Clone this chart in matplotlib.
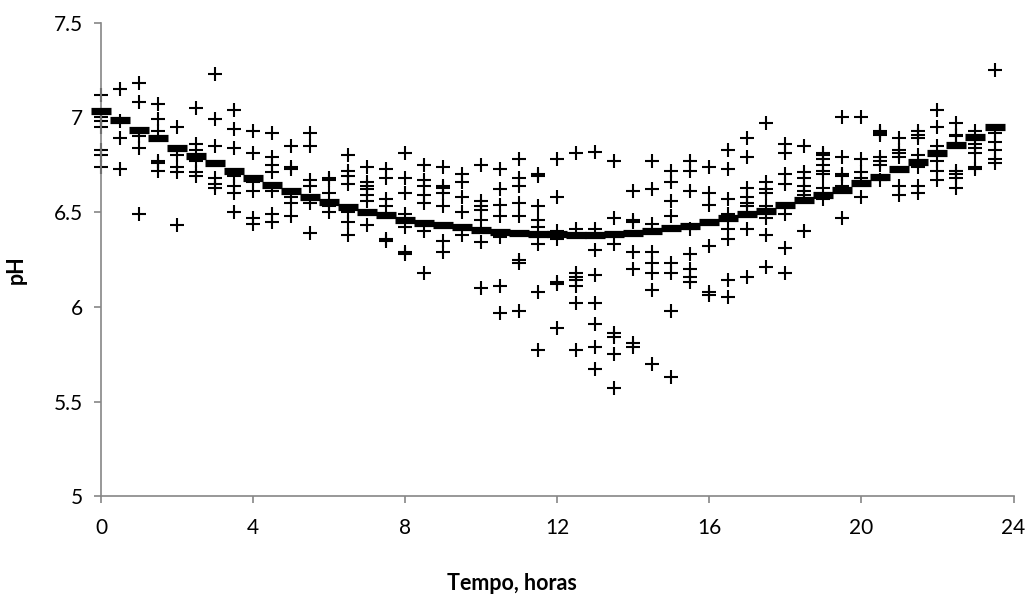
import matplotlib
matplotlib.use("Agg")
import matplotlib.pyplot as plt

plt.rcParams['font.family'] = ['Lato', 'DejaVu Sans']

hours = [i * 0.5 for i in range(48)]

fitted_ph = [7.034, 6.987, 6.934, 6.890, 6.841, 6.796, 6.758, 6.717,
             6.681, 6.643, 6.613, 6.581, 6.554, 6.528, 6.502, 6.484,
             6.461, 6.443, 6.431, 6.419, 6.405, 6.396, 6.390, 6.387,
             6.384, 6.380, 6.380, 6.385, 6.390, 6.400, 6.415, 6.428,
             6.449, 6.467, 6.490, 6.507, 6.537, 6.563, 6.590, 6.616,
             6.655, 6.687, 6.726, 6.766, 6.811, 6.854, 6.898, 6.948]

observed_ph = [
    [7.12, 7.00, 6.98, 6.95, 6.83, 6.80, 6.74],
    [7.15, 6.98, 6.89, 6.73],
    [7.18, 7.08, 6.90, 6.84, 6.49],
    [7.07, 6.99, 6.93, 6.77, 6.76, 6.72],
    [6.95, 6.80, 6.74, 6.71, 6.43],
    [7.05, 6.86, 6.83, 6.77, 6.71, 6.69],
    [7.23, 6.99, 6.85, 6.68, 6.65, 6.63],
    [7.04, 6.94, 6.84, 6.69, 6.64, 6.60, 6.50],
    [6.93, 6.81, 6.66, 6.61, 6.47, 6.44],
    [6.92, 6.79, 6.75, 6.71, 6.61, 6.49, 6.45],
    [6.85, 6.74, 6.73, 6.58, 6.55, 6.48],
    [6.92, 6.85, 6.67, 6.64, 6.55, 6.39],
    [6.68, 6.67, 6.60, 6.53, 6.50],
    [6.80, 6.72, 6.69, 6.65, 6.50, 6.45, 6.38],
    [6.74, 6.66, 6.64, 6.62, 6.59, 6.56, 6.43],
    [6.73, 6.68, 6.57, 6.53, 6.36, 6.35],
    [6.81, 6.68, 6.60, 6.49, 6.42, 6.29, 6.28],
    [6.75, 6.67, 6.64, 6.59, 6.55, 6.40, 6.18],
    [6.74, 6.64, 6.63, 6.60, 6.53, 6.35, 6.29],
    [6.70, 6.66, 6.58, 6.50, 6.38],
    [6.75, 6.56, 6.53, 6.51, 6.46, 6.34, 6.10],
    [6.73, 6.62, 6.54, 6.48, 6.37, 6.11, 5.97],
    [6.78, 6.68, 6.64, 6.55, 6.48, 6.25, 6.23, 5.98],
    [6.70, 6.69, 6.53, 6.46, 6.42, 6.33, 6.08, 5.77],
    [6.78, 6.58, 6.40, 6.36, 6.13, 6.12, 5.89],
    [6.81, 6.41, 6.18, 6.16, 6.14, 6.11, 6.02, 5.77],
    [6.82, 6.41, 6.30, 6.17, 6.02, 5.91, 5.79, 5.67],
    [6.77, 6.47, 6.33, 5.86, 5.84, 5.75, 5.57],
    [6.61, 6.46, 6.45, 6.29, 6.20, 5.81, 5.79],
    [6.77, 6.62, 6.44, 6.29, 6.23, 6.18, 6.09, 5.70],
    [6.72, 6.66, 6.56, 6.48, 6.23, 6.18, 5.98, 5.63],
    [6.77, 6.72, 6.61, 6.41, 6.28, 6.20, 6.16, 6.13],
    [6.74, 6.60, 6.54, 6.32, 6.08, 6.06],
    [6.83, 6.73, 6.57, 6.49, 6.41, 6.36, 6.14, 6.05],
    [6.89, 6.79, 6.63, 6.58, 6.55, 6.53, 6.41, 6.16],
    [6.97, 6.66, 6.62, 6.60, 6.53, 6.47, 6.38, 6.21],
    [6.86, 6.81, 6.70, 6.65, 6.49, 6.31, 6.18],
    [6.85, 6.71, 6.68, 6.64, 6.61, 6.59, 6.40],
    [6.81, 6.80, 6.78, 6.75, 6.72, 6.70, 6.63, 6.57],
    [7.00, 6.79, 6.70, 6.69, 6.64, 6.47],
    [7.00, 6.78, 6.71, 6.68, 6.58],
    [6.93, 6.92, 6.91, 6.79, 6.77, 6.75, 6.67],
    [6.89, 6.83, 6.81, 6.79, 6.64, 6.59],
    [6.93, 6.91, 6.89, 6.80, 6.74, 6.64, 6.60],
    [7.04, 6.95, 6.85, 6.77, 6.72, 6.67],
    [6.97, 6.91, 6.90, 6.72, 6.70, 6.68, 6.63],
    [6.93, 6.86, 6.84, 6.81, 6.74, 6.73],
    [7.25, 6.92, 6.87, 6.83, 6.78, 6.76],
]

x_ticks = [0, 4, 8, 12, 16, 20, 24]
y_ticks = [5, 5.5, 6, 6.5, 7, 7.5]
y_tick_labels = ['5', '5.5', '6', '6.5', '7', '7.5']

fig = plt.figure(figsize=(10.3, 6), dpi=100)
ax = fig.add_axes([0.098, 0.173, 0.886, 0.789])

obs_x = [h for h, vals in zip(hours, observed_ph) for _ in vals]
obs_y = [v for vals in observed_ph for v in vals]
ax.plot(obs_x, obs_y, linestyle='none', marker='+', color='black',
        markersize=10, markeredgewidth=1.5, zorder=2, clip_on=False)
ax.plot(hours, fitted_ph, linestyle='none', marker='_', color='black',
        markersize=14.5, markeredgewidth=5.2, zorder=3, clip_on=False)

ax.set_xlim(0, 24)
ax.set_ylim(5, 7.5)
ax.set_xticks(x_ticks)
ax.set_yticks(y_ticks)
ax.set_yticklabels(y_tick_labels)

for s in ['top', 'right']:
    ax.spines[s].set_visible(False)
for s in ['left', 'bottom']:
    ax.spines[s].set_color('#868686')
    ax.spines[s].set_linewidth(1.2)
ax.tick_params(axis='both', colors='#868686', labelcolor='black',
               labelsize=15, length=5, width=1.2, direction='out')
ax.tick_params(axis='x', pad=11)
ax.tick_params(axis='y', pad=8)

fig.text(0.497, 0.028, 'Tempo, horas', ha='center', va='center',
         fontsize=15.5, fontweight='bold')
fig.text(0.016, 0.55, 'pH', ha='center', va='center', rotation=90,
         fontsize=15.5, fontweight='bold')

fig.savefig('out.png', dpi=100)
